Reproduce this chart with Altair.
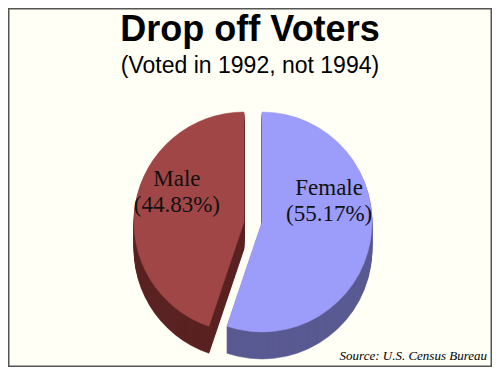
import altair as alt
import pandas as pd

# ---- data ----
labels = ["Female", "Male"]
shares = [55.17, 44.83]
top_colors = ["#9C9CFA", "#A04646"]
side_colors = ["#5A5A92", "#5A2222"]
title_text = "Drop off Voters"
subtitle_text = "(Voted in 1992, not 1994)"
source_text = "Source: U.S. Census Bureau"

# ---- derived table ----
starts, ends = [], []
acc = 0.0
for s in shares:
    starts.append(acc)
    acc += s
    ends.append(acc)
df = pd.DataFrame({
    "label": labels,
    "share": shares,
    "start": starts,
    "end": ends,
    "mid": [(a + b) / 2 for a, b in zip(starts, ends)],
    "text": [[l, "(%.2f%%)" % s] for l, s in zip(labels, shares)],
})

W, H = 484, 359
R = 110
CY = 214
CX = {"Female": 254, "Male": 236}
LABEL_DY = {"Female": -45, "Male": -32}
DEPTH = 27

theta_scale = alt.Scale(domain=[0, 100])

def arc_layer(name, color, dy):
    return alt.Chart(df).transform_filter(alt.datum.label == name).mark_arc(
        radius=R, color=color, stroke=color, strokeWidth=0.5
    ).encode(
        theta=alt.Theta("start:Q", scale=theta_scale),
        theta2="end:Q",
        x=alt.value(CX[name]),
        y=alt.value(CY + dy),
    )

layers = []
# side (extruded depth)
for i, name in enumerate(labels):
    for d in range(DEPTH, 0, -1):
        layers.append(arc_layer(name, side_colors[i], d))
# top faces
for i, name in enumerate(labels):
    layers.append(arc_layer(name, top_colors[i], 0))
# slice labels
for name in labels:
    layers.append(
        alt.Chart(df).transform_filter(alt.datum.label == name).mark_text(
            font="Liberation Serif", fontSize=23, color="#111111",
            align="center", baseline="middle", lineHeight=26, dy=LABEL_DY[name]
        ).encode(
            theta=alt.Theta("mid:Q", scale=theta_scale),
            radius=alt.value(68),
            x=alt.value(CX[name]),
            y=alt.value(CY),
            text="text",
        )
    )

one = alt.Data(values=[{}])
title = alt.Chart(one).mark_text(
    text=title_text, font="Liberation Sans", fontSize=36, fontWeight="bold",
    color="black", align="center", baseline="alphabetic"
).encode(x=alt.value(W / 2), y=alt.value(33))
subtitle = alt.Chart(one).mark_text(
    text=subtitle_text, font="Liberation Sans", fontSize=23,
    color="black", align="center", baseline="alphabetic"
).encode(x=alt.value(W / 2), y=alt.value(65))
source = alt.Chart(one).mark_text(
    text=source_text, font="Liberation Serif", fontSize=13, fontStyle="italic",
    color="black", align="right", baseline="alphabetic"
).encode(x=alt.value(W - 5), y=alt.value(352))

chart = alt.layer(*layers, title, subtitle, source).properties(
    width=W, height=H, padding=0, autosize=alt.AutoSizeParams(type="none"),
    background="#FFFFFF",
).configure_view(
    stroke="#555555", strokeWidth=3, fill="#FFFFF6"
)

chart.save("out.html", embed_options={"renderer": "svg", "actions": False})
